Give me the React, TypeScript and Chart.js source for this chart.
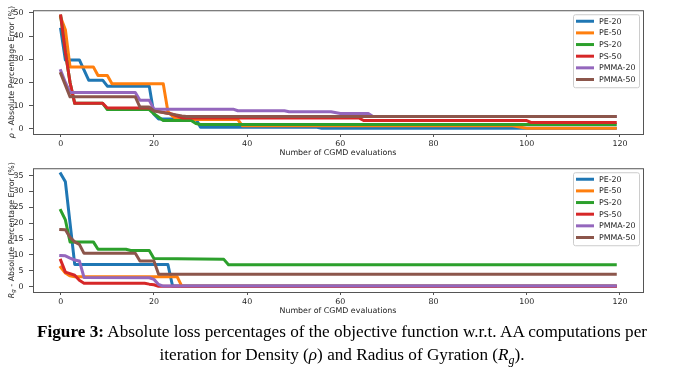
import React, { useEffect, useRef } from 'react';
import { Chart, registerables } from 'chart.js';

Chart.register(...registerables);

// ---------- data ----------
const seriesNames = ['PE-20', 'PE-50', 'PS-20', 'PS-50', 'PMMA-20', 'PMMA-50'];
const seriesColors = ['#1f77b4', '#ff7f0e', '#2ca02c', '#d62728', '#9467bd', '#8c564b'];
const xTickValues = [0, 20, 40, 60, 80, 100, 120];
const rhoTickValues = [0, 10, 20, 30, 40, 50];
const rgTickValues = [0, 5, 10, 15, 20, 25, 30, 35];
const xAxisTitle = 'Number of CGMD evaluations';

// Density (rho) absolute percentage error, per CGMD evaluation (breakpoints)
const rhoPE20X = [0, 1, 4, 6, 9, 10, 19, 20, 21, 29, 30, 55, 56, 119];
const rhoPE20Y = [42.9, 29.7, 29.7, 21.0, 21.0, 18.4, 18.4, 6.3, 4.3, 4.3, 0.7, 0.7, 0.3, 0.3];
const rhoPE50X = [0, 1, 2, 7, 8, 10, 11, 22, 23, 24, 25, 38, 39, 97, 100, 119];
const rhoPE50Y = [48.0, 42.7, 26.7, 26.7, 23.0, 23.0, 19.4, 19.4, 7.5, 5.5, 4.0, 4.0, 1.3, 1.3, 0.3, 0.3];
const rhoPS20X = [0, 1, 2, 3, 9, 10, 19, 20, 22, 28, 29, 30, 119];
const rhoPS20Y = [48.5, 33.0, 20.0, 11.0, 11.0, 8.3, 8.3, 6.5, 3.6, 3.6, 2.3, 1.9, 1.9];
const rhoPS50X = [0, 1, 2, 3, 9, 10, 19, 21, 24, 26, 64, 65, 100, 101, 119];
const rhoPS50Y = [48.7, 33.0, 20.0, 11.0, 11.0, 9.0, 9.0, 7.5, 6.3, 4.7, 4.7, 3.6, 3.6, 2.7, 2.7];
const rhoPMMA20X = [0, 1, 2, 16, 17, 19, 20, 37, 38, 48, 49, 58, 60, 66, 67, 119];
const rhoPMMA20Y = [25.1, 20.0, 15.7, 15.7, 12.3, 12.3, 8.5, 8.5, 7.8, 7.8, 7.4, 7.4, 6.6, 6.6, 5.3, 5.3];
const rhoPMMA50X = [0, 1, 2, 16, 17, 19, 20, 22, 26, 27, 119];
const rhoPMMA50Y = [23.8, 18.8, 13.8, 13.8, 9.4, 9.4, 7.7, 7.0, 5.6, 5.3, 5.3];

// Radius of gyration (Rg) absolute percentage error
const rgPE20X = [0, 1, 2, 3, 23, 24, 119];
const rgPE20Y = [35.5, 33.0, 20.0, 7.0, 7.0, 0.2, 0.2];
const rgPE50X = [0, 1, 2, 3, 25, 26, 119];
const rgPE50Y = [6.1, 4.3, 3.4, 3.1, 3.1, 0.1, 0.1];
const rgPS20X = [0, 1, 2, 7, 8, 14, 15, 19, 20, 35, 36, 119];
const rgPS20Y = [24.0, 21.0, 14.1, 14.1, 11.8, 11.8, 11.4, 11.4, 8.9, 8.6, 6.9, 6.9];
const rgPS50X = [0, 1, 2, 3, 4, 5, 18, 19, 20, 21, 119];
const rgPS50Y = [8.3, 4.6, 4.1, 3.6, 2.0, 1.1, 1.1, 0.8, 0.6, 0.1, 0.1];
const rgPMMA20X = [0, 1, 2, 3, 4, 5, 19, 20, 21, 22, 119];
const rgPMMA20Y = [9.8, 9.7, 9.0, 8.4, 8.1, 2.9, 2.8, 2.3, 0.7, 0.2, 0.2];
const rgPMMA50X = [0, 1, 2, 3, 4, 5, 16, 17, 20, 21, 119];
const rgPMMA50Y = [18.0, 17.9, 15.5, 14.1, 13.3, 10.5, 10.5, 8.1, 8.1, 3.9, 3.9];

const rhoSeries = [
  [rhoPE20X, rhoPE20Y], [rhoPE50X, rhoPE50Y], [rhoPS20X, rhoPS20Y],
  [rhoPS50X, rhoPS50Y], [rhoPMMA20X, rhoPMMA20Y], [rhoPMMA50X, rhoPMMA50Y],
];
const rgSeries = [
  [rgPE20X, rgPE20Y], [rgPE50X, rgPE50Y], [rgPS20X, rgPS20Y],
  [rgPS50X, rgPS50Y], [rgPMMA20X, rgPMMA20Y], [rgPMMA50X, rgPMMA50Y],
];

const FONT = 'DejaVu Sans';
const FS = 7.9;

type Part = { text: string; italic?: boolean; sub?: boolean };

function StepChart(props: {
  series: number[][][];
  yTicks: number[];
  yMin: number;
  yMax: number;
  yTitle: Part[];
  top: number;
  padTop: number;
}) {
  const ref = useRef<HTMLCanvasElement | null>(null);
  useEffect(() => {
    const canvas = ref.current!;
    const { series, yTicks, yMin, yMax, yTitle, padTop } = props;

    const decorPlugin = {
      id: 'decor',
      afterDatasetsDraw(chart: any) {
        const ctx = chart.ctx;
        const a = chart.chartArea;
        ctx.save();
        // frame
        ctx.strokeStyle = '#555';
        ctx.lineWidth = 1;
        ctx.strokeRect(a.left + 0.5, a.top + 0.5, a.right - a.left, a.bottom - a.top);
        // legend
        const bw = 66, bh = 73;
        const bx = a.right - 4 - bw;
        const by = a.top + 4;
        ctx.fillStyle = 'rgba(255,255,255,0.8)';
        ctx.strokeStyle = '#cccccc';
        ctx.beginPath();
        (ctx as any).roundRect(bx + 0.5, by + 0.5, bw, bh, 2);
        ctx.fill();
        ctx.stroke();
        ctx.font = `${FS}px "${FONT}"`;
        ctx.textBaseline = 'middle';
        ctx.textAlign = 'left';
        seriesNames.forEach((name, i) => {
          const y = by + 7 + i * 11.65;
          ctx.strokeStyle = seriesColors[i];
          ctx.lineWidth = 3;
          ctx.lineCap = 'butt';
          ctx.beginPath();
          ctx.moveTo(bx + 3, y);
          ctx.lineTo(bx + 21, y);
          ctx.stroke();
          ctx.fillStyle = '#222';
          ctx.fillText(name, bx + 26, y + 0.5);
        });
        // y title
        const cy = (a.top + a.bottom) / 2;
        const cx = 11.5;
        const fontOf = (p: Part) =>
          `${p.italic ? 'italic ' : ''}${p.sub ? FS * 0.7 : FS}px "${FONT}"`;
        let total = 0;
        yTitle.forEach((p) => {
          ctx.font = fontOf(p);
          total += ctx.measureText(p.text).width;
        });
        ctx.translate(cx, cy);
        ctx.rotate(-Math.PI / 2);
        ctx.fillStyle = '#222';
        ctx.textBaseline = 'middle';
        let x = -total / 2;
        yTitle.forEach((p) => {
          ctx.font = fontOf(p);
          ctx.fillText(p.text, x, p.sub ? 2 : 0);
          x += ctx.measureText(p.text).width;
        });
        ctx.restore();
      },
    };

    const chart = new Chart(canvas, {
      type: 'line',
      data: {
        datasets: series.map(([xs, ys], i) => ({
          label: seriesNames[i],
          data: xs.map((x, j) => ({ x, y: ys[j] })),
          borderColor: seriesColors[i],
          backgroundColor: seriesColors[i],
          borderWidth: 3,
          pointRadius: 0,
          tension: 0,
          fill: false,
          borderJoinStyle: 'round',
          borderCapStyle: 'square',
          order: -i,
        })),
      },
      options: {
        animation: false,
        responsive: false,
        events: [],
        layout: { padding: { top: padTop, right: 31, left: 0, bottom: 0 } },
        plugins: { legend: { display: false }, tooltip: { enabled: false } },
        scales: {
          x: {
            type: 'linear',
            min: -5.95,
            max: 124.95,
            afterBuildTicks: (s: any) => {
              s.ticks = xTickValues.map((v) => ({ value: v }));
            },
            afterFit: (s: any) => {
              s.height = 28;
            },
            grid: { display: true, drawOnChartArea: false, drawTicks: true, tickLength: 3, color: '#555' },
            border: { display: false },
            ticks: { autoSkip: false, maxRotation: 0, padding: 2, color: '#222', font: { family: FONT, size: FS } },
            title: {
              display: true,
              text: xAxisTitle,
              color: '#222',
              font: { family: FONT, size: FS },
              padding: { top: 0, bottom: 4.3 },
            },
          },
          y: {
            type: 'linear',
            min: yMin,
            max: yMax,
            afterBuildTicks: (s: any) => {
              s.ticks = yTicks.map((v) => ({ value: v }));
            },
            afterFit: (s: any) => {
              s.width = 33;
            },
            grid: { display: true, drawOnChartArea: false, drawTicks: true, tickLength: 4, color: '#555' },
            border: { display: false },
            ticks: { autoSkip: false, padding: 5.5, color: '#222', font: { family: FONT, size: FS } },
          },
        },
      } as any,
      plugins: [decorPlugin],
    });
    return () => chart.destroy();
  }, []);
  return (
    <canvas
      ref={ref}
      width={674}
      height={162}
      style={{ position: 'absolute', left: 0, top: props.top, width: 674, height: 162 }}
    />
  );
}

export default function App() {
  return (
    <div style={{ position: 'absolute', left: 0, top: 0, width: 674, height: 376, background: '#fff', overflow: 'hidden' }}>
      <StepChart
        series={rhoSeries}
        yTicks={rhoTickValues}
        yMin={-2.2}
        yMax={51.1}
        yTitle={[{ text: 'ρ', italic: true }, { text: ' - Absolute Percentage Error (%)' }]}
        top={0}
        padTop={3}
      />
      <StepChart
        series={rgSeries}
        yTicks={rgTickValues}
        yMin={-1.67}
        yMax={37.27}
        yTitle={[{ text: 'R', italic: true }, { text: 'g', italic: true, sub: true }, { text: ' - Absolute Percentage Error (%)' }]}
        top={158}
        padTop={4}
      />
      <div
        style={{
          position: 'absolute',
          left: 0,
          top: 320,
          width: 684,
          textAlign: 'center',
          fontFamily: '"Liberation Serif", "Times New Roman", serif',
          fontSize: 17.2,
          lineHeight: '23px',
          color: '#000',
        }}
      >
        <b>Figure 3:</b> Absolute loss percentages of the objective function w.r.t. AA computations per
        <br />
        iteration for Density (<i>ρ</i>) and Radius of Gyration (<i>R<sub style={{ fontSize: 12, lineHeight: 0 }}>g</sub></i>).
      </div>
    </div>
  );
}
